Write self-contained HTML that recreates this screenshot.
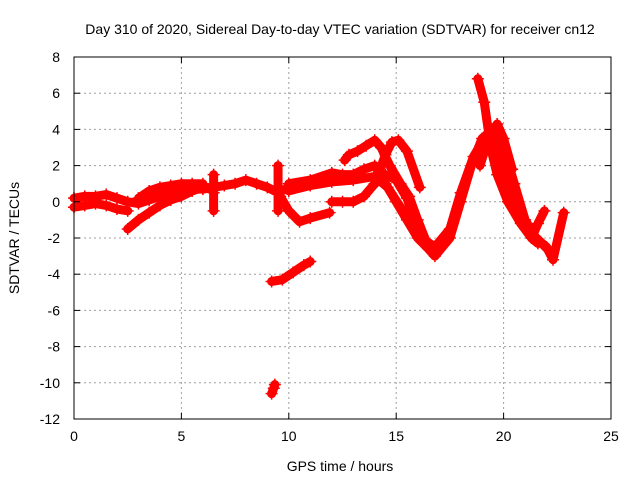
<!DOCTYPE html>
<html><head><meta charset="utf-8"><style>
body{margin:0;background:#fff;}
svg text{font-family:"Liberation Sans",sans-serif;font-size:14px;fill:#000;}
</style></head><body>
<svg id="chart" width="640" height="480" viewBox="0 0 640 480" xmlns="http://www.w3.org/2000/svg">
<rect width="640" height="480" fill="#fff"/>
<text x="340" y="34" text-anchor="middle">Day 310 of 2020, Sidereal Day-to-day VTEC variation (SDTVAR) for receiver cn12</text>
<text x="340" y="471" text-anchor="middle">GPS time / hours</text>
<text transform="translate(19,238) rotate(-90)" text-anchor="middle">SDTVAR / TECUs</text>
<g id="grid"></g><g id="series"></g><g id="axes"></g>
</svg>
<script>
const xTicks=[0,5,10,15,20,25];
const yTicks=[8,6,4,2,0,-2,-4,-6,-8,-10,-12];
const seriesX=[
[0,0.5,1,1.5,2,2.5,3,3.5,4,4.5,5,5.5,6,6.5,7,7.5,8,8.5,9,9.5,10,10.5,11],
[0,0.5,1,1.5,2,2.5],
[2.5,3,3.5,4,4.5,5,5.5,6],
[3,3.5,4,4.5,5,5.5,6],
[9.6,10,10.5,11,11.9],
[10,11,12,12.5,13,13.5,14,14.5,15,15.5,16,16.5,16.8,17.5,18,18.5,19,19.5,20,20.5,21,21.5,22,22.3,22.8],
[10,11,12,13,14,14.6,15.2,15.7,16.2,16.8,17.5,18,18.6,19.1,19.6,20.1,20.6,21.1,21.7,22.2],
[12.6,12.8,13.2,13.6,14,14.3,14.7,15.2,15.6,16,16.4],
[14,14.5,14.8,15.1,15.5,16.1],
[12,12.5,13,13.5,14,14.5,15,15.5,16],
[18.8,19.1,19.4,19.7,20.2,20.8,21.3,21.6],
[18.9,19.3,19.7,20,20.4],
[21.3,21.6,21.9],
[9.2,9.7,10.2,10.7,11.0],
[9.2,9.3,9.35],
[6.5,6.5,6.5],
[9.5,9.5,9.5]
];
const seriesY=[
[0.2,0.3,0.3,0.4,0.2,0,-0.1,0.1,0.3,0.5,0.6,0.7,0.7,0.8,0.9,1.0,1.2,1.0,0.8,0.5,0.8,1.0,1.0],
[-0.3,-0.2,-0.1,-0.2,-0.4,-0.5],
[-1.5,-1.0,-0.6,-0.2,0.1,0.3,0.6,0.8],
[0.2,0.6,0.8,0.9,1.0,1.0,1.0],
[0.3,-0.5,-1.1,-0.9,-0.6],
[1.0,1.2,1.6,1.5,1.5,1.8,2.0,1.0,0,-1,-2,-2.6,-3,-2,0,2,3.5,4,3,1,-1,-2,-2.5,-3.2,-0.6],
[0.6,0.9,1.1,1.2,1.4,0.8,-0.3,-1.2,-2,-2.5,-1.5,0.5,2.5,3.5,3.2,1.5,-0.5,-1.5,-2.2,-2.8],
[2.3,2.6,2.8,3.1,3.4,3.0,2.0,1.0,0.3,-1.0,-2.2],
[1.0,2.6,3.3,3.4,2.8,0.8],
[0,0,0,0.3,1,1.5,1.2,0.2,-1.5],
[6.8,5.5,3,1.5,0,-1.2,-2,-2.3],
[2,3.5,4.3,3.5,1.8],
[-2,-1.2,-0.5],
[-4.4,-4.3,-3.9,-3.5,-3.3],
[-10.6,-10.3,-10.1],
[-0.5,0.5,1.5],
[-0.5,0.8,2]
];
const L=74,R=611,T=57,B=419;
const xs=v=>L+(v-0)/25*(R-L);
const ys=v=>T+(8-v)/20*(B-T);
const NS="http://www.w3.org/2000/svg";
const g=document.getElementById('grid'),ax=document.getElementById('axes'),sg=document.getElementById('series');
function mk(t,a,p){const e=document.createElementNS(NS,t);for(const k in a)e.setAttribute(k,a[k]);p.appendChild(e);return e;}
xTicks.forEach(v=>{
 const x=xs(v);
 if(v>0&&v<25){const l=mk('line',{x1:x,y1:T,x2:x,y2:B,stroke:'#a0a0a0','stroke-dasharray':'2,3'},g);
 
 }
 mk('line',{x1:x,y1:B,x2:x,y2:B-6,stroke:'#000'},ax);
 mk('line',{x1:x,y1:T,x2:x,y2:T+6,stroke:'#000'},ax);
 const t=mk('text',{x:x,y:B+22,'text-anchor':'middle'},ax);t.textContent=v;
 
 
});
yTicks.forEach(v=>{
 const y=ys(v);
 if(v<8&&v>-12){const l=mk('line',{x1:L,y1:y,x2:R,y2:y,stroke:'#a0a0a0','stroke-dasharray':'2,3'},g);
 
 }
 mk('line',{x1:L,y1:y,x2:L+6,y2:y,stroke:'#000'},ax);
 mk('line',{x1:R,y1:y,x2:R-6,y2:y,stroke:'#000'},ax);
 const t=mk('text',{x:L-14,y:y+5,'text-anchor':'end'},ax);t.textContent=v;
 
 
});
const fr=mk('rect',{x:L,y:T,width:R-L,height:B-T,fill:'none',stroke:'#000'},ax);


seriesX.forEach((xa,i)=>{
 const ya=seriesY[i];
 const pts=xa.map((x,j)=>xs(x)+','+ys(ya[j])).join(' ');
 const pl=mk('polyline',{points:pts,fill:'none',stroke:'#f00','stroke-width':9,'stroke-linejoin':'round','stroke-linecap':'round'},sg);
 
 
 xa.forEach((x,j)=>{
  const cx=xs(x),cy=ys(ya[j]);
  const p=mk('path',{d:`M${cx-6},${cy}h12M${cx},${cy-6}v12`,stroke:'#f00','stroke-width':1.5},sg);
  
  
 });
});
</script>
</body></html>
